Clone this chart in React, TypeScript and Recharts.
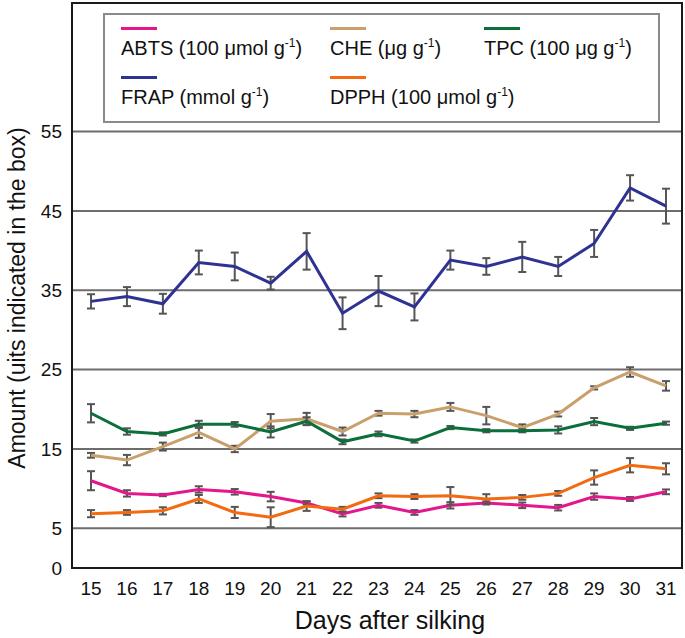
import { LineChart, Line, XAxis, YAxis, CartesianGrid, ErrorBar } from "recharts";

const days = [15, 16, 17, 18, 19, 20, 21, 22, 23, 24, 25, 26, 27, 28, 29, 30, 31];

const abts = [11.0, 9.4, 9.2, 9.9, 9.6, 9.0, 8.2, 6.8, 7.9, 7.0, 7.9, 8.2, 7.9, 7.6, 9.0, 8.7, 9.6];
const abtsErr = [1.2, 0.4, 0.15, 0.4, 0.35, 0.6, 0.2, 0.3, 0.3, 0.3, 0.4, 0.2, 0.35, 0.35, 0.4, 0.25, 0.3];

const che = [14.2, 13.6, 15.3, 17.1, 15.0, 18.5, 18.8, 17.2, 19.5, 19.4, 20.3, 19.2, 17.7, 19.4, 22.7, 24.7, 22.95];
const cheErr = [0.3, 0.65, 0.5, 0.7, 0.4, 0.9, 0.75, 0.5, 0.3, 0.4, 0.5, 1.1, 0.4, 0.3, 0.2, 0.6, 0.6];

const tpc = [19.5, 17.2, 16.9, 18.1, 18.1, 17.15, 18.5, 15.9, 16.9, 16.0, 17.7, 17.3, 17.3, 17.4, 18.45, 17.6, 18.25];
const tpcErr = [1.15, 0.4, 0.2, 0.45, 0.3, 0.7, 0.5, 0.3, 0.3, 0.2, 0.2, 0.2, 0.2, 0.45, 0.45, 0.2, 0.2];

const frap = [33.6, 34.2, 33.3, 38.5, 38.0, 35.9, 39.9, 32.1, 34.9, 32.9, 38.8, 38.0, 39.2, 38.0, 40.9, 47.9, 45.6];
const frapErr = [0.9, 1.2, 1.25, 1.5, 1.75, 0.8, 2.3, 2.0, 1.9, 1.7, 1.2, 1.05, 1.9, 1.2, 1.7, 1.6, 2.2];

const dpph = [6.85, 7.0, 7.2, 8.7, 7.0, 6.4, 7.8, 7.4, 9.1, 9.0, 9.1, 8.7, 8.9, 9.4, 11.4, 12.95, 12.5];
const dpphErr = [0.45, 0.3, 0.45, 0.5, 0.7, 1.25, 0.6, 0.3, 0.3, 0.3, 1.1, 0.6, 0.3, 0.3, 0.9, 0.9, 0.7];

const yTicks = [0, 5, 15, 25, 35, 45, 55];

const data = days.map((day, i) => ({
  day,
  abts: abts[i],
  abtsErr: abtsErr[i],
  che: che[i],
  cheErr: cheErr[i],
  tpc: tpc[i],
  tpcErr: tpcErr[i],
  frap: frap[i],
  frapErr: frapErr[i],
  dpph: dpph[i],
  dpphErr: dpphErr[i],
}));

const series = [
  { key: "abts", name: "ABTS (100 μmol g", color: "#e5168b", x: 121, y: 0 },
  { key: "che", name: "CHE (μg g", color: "#c9a06c", x: 330, y: 0 },
  { key: "tpc", name: "TPC (100 μg g", color: "#0b6e3b", x: 484, y: 0 },
  { key: "frap", name: "FRAP (mmol g", color: "#2f3193", x: 121, y: 1 },
  { key: "dpph", name: "DPPH (100 μmol g", color: "#f26b10", x: 330, y: 1 },
];

const font = "'Liberation Sans', Arial, sans-serif";

export default function App() {
  return (
    <div style={{ position: "absolute", left: 0, top: 0, width: 685, height: 638, fontFamily: font, background: "#fff" }}>
      <LineChart width={685} height={638} data={data} margin={{ top: 3, right: 3, bottom: 0, left: 0 }}>
        <CartesianGrid vertical={false} stroke="#6d6d6d" strokeWidth={2} />
        <XAxis
          dataKey="day"
          height={70}
          padding={{ left: 19, right: 16 }}
          tickLine={false}
          axisLine={false}
          tickMargin={8}
          tick={{ fill: "#111", fontSize: 19, fontFamily: font }}
          label={{
            content: () => (
              <text x={390} y={629} textAnchor="middle" fill="#111" fontSize={25} fontFamily={font}>
                Days after silking
              </text>
            ),
          }}
        />
        <YAxis
          width={72}
          domain={[0, 71.2]}
          ticks={yTicks}
          interval={0}
          tickLine={false}
          axisLine={false}
          tickMargin={4}
          tick={{ fill: "#111", fontSize: 19, fontFamily: font }}
          label={{
            content: () => (
              <text
                x={17}
                y={298}
                transform="rotate(-90 17 298)"
                textAnchor="middle"
                dominantBaseline="central"
                fill="#111"
                fontSize={23}
                fontFamily={font}
              >
                Amount (uits indicated in the box)
              </text>
            ),
          }}
        />
        {series.map((s) => (
          <Line
            key={s.key}
            dataKey={s.key}
            type="linear"
            stroke={s.color}
            strokeWidth={3}
            dot={false}
            activeDot={false}
            isAnimationActive={false}
          >
            <ErrorBar dataKey={s.key + "Err"} width={4} strokeWidth={2} stroke="#555" direction="y" isAnimationActive={false} />
          </Line>
        ))}
      </LineChart>

      <div
        style={{
          position: "absolute",
          left: 71,
          top: 2,
          width: 612,
          height: 567,
          border: "2px solid #1a1a1a",
          boxSizing: "border-box",
          pointerEvents: "none",
        }}
      />

      <div
        style={{
          position: "absolute",
          left: 103,
          top: 13,
          width: 557,
          height: 110,
          border: "2px solid #8a8a8a",
          boxSizing: "border-box",
          background: "#fff",
        }}
      />
      {series.map((s) => (
        <div key={s.key} style={{ position: "absolute", left: s.x, top: 27 + s.y * 49, color: "#111" }}>
          <div style={{ width: 36, height: 3, background: s.color }} />
          <div style={{ fontSize: 20, lineHeight: "20px", marginTop: 8, whiteSpace: "nowrap" }}>
            {s.name}
            <sup style={{ fontSize: 12, lineHeight: 0 }}>-1</sup>)
          </div>
        </div>
      ))}
    </div>
  );
}
